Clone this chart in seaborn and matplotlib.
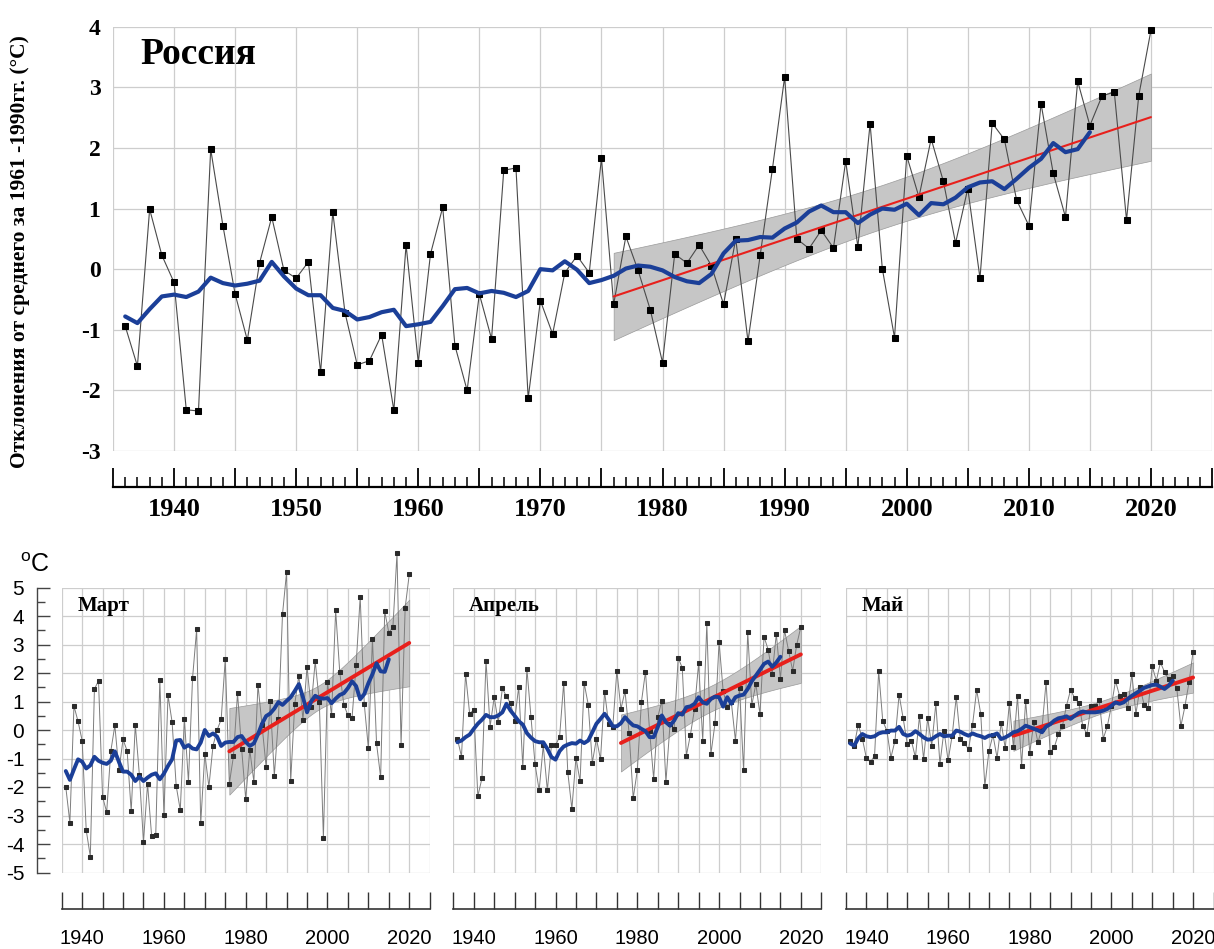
import numpy as np
import pandas as pd
import matplotlib
matplotlib.use('Agg')
import matplotlib.pyplot as plt
import seaborn as sns

years = np.arange(1936, 2021)
years_smooth = np.arange(1936, 2016)
trend_start = 1976

# Россия, годовые аномалии
rus = [-0.94, -1.60, 0.99, 0.23, -0.22, -2.32, -2.34, 1.98, 0.72, -0.41,
       -1.17, 0.10, 0.86, -0.02, -0.15, 0.12, -1.70, 0.94, -0.72, -1.58,
       -1.51, -1.08, -2.33, 0.40, -1.54, 0.25, 1.02, -1.26, -2.00, -0.41,
       -1.15, 1.63, 1.67, -2.13, -0.52, -1.07, -0.06, 0.22, -0.06, 1.83,
       -0.58, 0.54, -0.02, -0.67, -1.54, 0.25, 0.10, 0.40, 0.06, -0.58,
       0.50, -1.19, 0.23, 1.65, 3.17, 0.50, 0.34, 0.64, 0.35, 1.78,
       0.37, 2.40, 0.01, -1.13, 1.87, 1.19, 2.15, 1.45, 0.43, 1.33,
       -0.15, 2.41, 2.14, 1.14, 0.72, 2.73, 1.58, 0.86, 3.10, 2.37,
       2.86, 2.92, 0.81, 2.86, 3.94]
rus_smooth = [-0.78, -0.89, -0.66, -0.45, -0.42, -0.46, -0.37, -0.14, -0.23, -0.27,
              -0.24, -0.19, 0.12, -0.12, -0.32, -0.43, -0.43, -0.64, -0.69, -0.83,
              -0.79, -0.71, -0.67, -0.94, -0.91, -0.87, -0.61, -0.33, -0.31, -0.40,
              -0.36, -0.39, -0.46, -0.36, 0.00, -0.02, 0.13, -0.01, -0.23, -0.18,
              -0.11, 0.01, 0.06, 0.04, -0.02, -0.13, -0.20, -0.23, -0.08, 0.26,
              0.47, 0.48, 0.53, 0.52, 0.67, 0.77, 0.95, 1.05, 0.94, 0.94,
              0.76, 0.90, 1.00, 0.98, 1.08, 0.89, 1.09, 1.07, 1.18, 1.35,
              1.43, 1.45, 1.32, 1.49, 1.67, 1.82, 2.08, 1.93, 1.98, 2.26]

# Март
mar = [-2.00, -3.25, 0.84, 0.30, -0.37, -3.52, -4.44, 1.43, 1.73, -2.35,
       -2.88, -0.75, 0.16, -1.42, -0.33, -0.73, -2.85, 0.19, -1.58, -3.93,
       -1.89, -3.73, -3.68, 1.77, -2.98, 1.22, 0.28, -1.96, -2.81, 0.40,
       -1.82, 1.82, 3.53, -3.27, -0.83, -1.99, -0.56, 0.00, 0.37, 2.48,
       -1.88, -0.92, 1.29, -0.65, -2.42, -0.70, -1.82, 1.59, 0.16, -1.30,
       1.01, -1.60, 0.37, 4.06, 5.54, -1.80, 0.92, 1.91, 0.36, 2.21,
       0.80, 2.41, 1.00, -3.78, 1.68, 0.51, 4.20, 2.03, 0.89, 0.51,
       0.41, 2.27, 4.67, 0.91, -0.64, 3.20, -0.47, -1.66, 4.16, 3.42,
       3.60, 6.20, -0.51, 4.29, 5.46]
mar_smooth = [-1.44, -1.75, -1.38, -1.03, -1.11, -1.35, -1.24, -0.94, -1.08, -1.15,
              -1.19, -1.08, -0.75, -1.12, -1.46, -1.46, -1.57, -1.79, -1.64, -1.79,
              -1.67, -1.57, -1.52, -1.73, -1.53, -1.26, -1.03, -0.37, -0.35, -0.62,
              -0.53, -0.65, -0.68, -0.44, 0.00, -0.21, -0.12, -0.23, -0.56, -0.44,
              -0.42, -0.42, -0.25, -0.21, -0.42, -0.56, -0.47, -0.15, 0.22, 0.49,
              0.58, 0.75, 0.98, 0.88, 1.02, 1.15, 1.37, 1.61, 1.15, 0.62,
              1.00, 1.20, 1.12, 1.10, 1.12, 0.94, 1.10, 1.23, 1.29, 1.47,
              1.71, 1.54, 1.08, 1.26, 1.64, 1.96, 2.34, 2.06, 2.04, 2.48]

# Апрель
apr = [-0.31, -0.93, 1.97, 0.57, 0.71, -2.32, -1.70, 2.43, 0.12, 1.15,
       0.27, 1.46, 1.18, 0.94, 0.33, 1.52, -1.30, 2.15, 0.45, -1.21,
       -2.12, -0.54, -2.12, -0.54, -0.54, -0.23, 1.66, -1.48, -2.77, -0.97,
       -1.80, 1.65, 0.89, -1.15, -0.30, -1.03, 1.35, 0.20, 0.10, 2.08,
       0.74, 1.36, -0.11, -2.39, -1.42, 0.97, 2.05, -0.02, -1.71, 0.45,
       1.03, -1.83, 0.20, 0.03, 2.53, 2.18, -0.90, -0.16, 0.74, 2.35,
       -0.38, 3.74, -0.85, 0.23, 3.09, 1.36, 0.80, 0.97, -0.37, 1.48,
       -1.42, 3.45, 0.87, 1.62, 0.55, 3.27, 2.82, 1.97, 3.37, 1.79,
       3.51, 2.78, 2.08, 3.00, 3.62]
apr_smooth = [-0.43, -0.37, -0.25, -0.16, 0.04, 0.22, 0.36, 0.53, 0.45, 0.45,
              0.51, 0.62, 0.92, 0.68, 0.50, 0.31, 0.19, -0.11, -0.27, -0.39,
              -0.43, -0.43, -0.66, -0.95, -1.04, -0.74, -0.58, -0.51, -0.46, -0.48,
              -0.37, -0.46, -0.37, -0.08, 0.22, 0.39, 0.57, 0.37, 0.13, 0.13,
              0.24, 0.45, 0.29, 0.16, 0.13, 0.04, -0.04, -0.25, -0.25, 0.10,
              0.51, 0.27, 0.15, 0.33, 0.59, 0.54, 0.80, 0.83, 0.92, 1.15,
              0.97, 0.92, 1.09, 1.17, 1.15, 0.82, 1.15, 0.92, 1.15, 1.21,
              1.24, 1.44, 1.71, 1.91, 2.11, 2.32, 2.40, 2.22, 2.37, 2.57]

# Май
may = [-0.40, -0.55, 0.19, -0.30, -0.99, -1.13, -0.90, 2.07, 0.32, -0.02,
       -0.97, -0.37, 1.24, 0.41, -0.49, -0.37, -0.96, 0.49, -1.02, 0.41,
       -0.55, 0.93, -1.19, -0.02, -1.07, -0.20, 1.16, -0.32, -0.46, -0.68,
       0.19, 1.41, 0.56, -1.97, -0.74, -0.18, -0.98, 0.26, -0.64, 0.93,
       -0.61, 1.18, -1.25, 1.03, -0.79, 0.27, -0.43, 0.05, 1.69, -0.78,
       -0.61, -0.15, 0.14, 0.85, 1.41, 1.12, 0.95, 0.13, -0.14, 0.83,
       0.83, 1.06, -0.30, 0.13, 0.85, 1.72, 1.20, 1.25, 0.77, 1.96,
       0.56, 1.50, 0.89, 0.77, 2.23, 1.73, 2.37, 2.04, 1.78, 1.88,
       1.47, 0.13, 0.83, 1.67, 2.75]
may_smooth = [-0.47, -0.55, -0.29, -0.14, -0.22, -0.25, -0.22, -0.12, -0.08, -0.08,
              -0.02, -0.02, 0.11, -0.14, -0.20, -0.16, -0.04, -0.14, -0.26, -0.34,
              -0.32, -0.22, -0.14, -0.22, -0.20, -0.20, -0.02, -0.06, -0.14, -0.20,
              -0.12, -0.18, -0.22, -0.28, -0.20, -0.18, -0.12, -0.32, -0.26, -0.18,
              -0.08, -0.04, 0.04, 0.15, 0.10, 0.04, -0.01, -0.08, 0.12, 0.20,
              0.33, 0.41, 0.44, 0.48, 0.39, 0.50, 0.60, 0.65, 0.62, 0.62,
              0.62, 0.64, 0.68, 0.74, 0.85, 0.97, 0.92, 0.97, 1.09, 1.20,
              1.29, 1.38, 1.48, 1.53, 1.58, 1.59, 1.52, 1.44, 1.55, 1.73]

# полуширина доверительной полосы тренда: в середине и на краях
band_rus = (0.36, 0.72)
band_mar = (0.42, 1.52)
band_apr = (0.45, 1.00)
band_may = (0.22, 0.53)

BLUE = '#1b3f98'
RED = '#e8201c'

sns.set_theme(style='white')
plt.rcParams['font.family'] = ['Liberation Serif', 'DejaVu Serif']
plt.rcParams['text.color'] = 'black'
plt.rcParams['xtick.labelcolor'] = 'black'
plt.rcParams['ytick.labelcolor'] = 'black'
SANS = ['Liberation Sans', 'DejaVu Sans']

W, H = 1214, 949
fig = plt.figure(figsize=(W / 100, H / 100), dpi=100)


def axes_px(left, top, right, bottom):
    return fig.add_axes([left / W, 1 - bottom / H, (right - left) / W, (bottom - top) / H])


def draw(ax, vals, smooth, band, big):
    df = pd.DataFrame({'year': years, 'val': vals})
    tr = df[df['year'] >= trend_start]
    k, c = np.polyfit(tr['year'], tr['val'], 1)
    xb = tr['year'].values.astype(float)
    mid, end = band
    xm = (xb[0] + xb[-1]) / 2
    half = np.sqrt(mid ** 2 + (end ** 2 - mid ** 2) / (xb[-1] - xm) ** 2 * (xb - xm) ** 2)
    fit = k * xb + c
    ax.fill_between(xb, fit - half, fit + half, facecolor='#c6c6c6',
                    edgecolor='#9a9a9a', linewidth=0.5, zorder=2)
    if big:
        sns.lineplot(data=df, x='year', y='val', ax=ax, color='#4a4a4a', linewidth=0.8,
                     marker='s', markersize=4.6, markerfacecolor='black',
                     markeredgecolor='black', clip_on=False, zorder=3)
        sns.regplot(data=tr, x='year', y='val', ax=ax, scatter=False, ci=None, truncate=True,
                    line_kws=dict(color=RED, linewidth=1.5, zorder=4))
        sns.lineplot(x=years_smooth, y=smooth, ax=ax, color=BLUE, linewidth=3.0, zorder=5)
    else:
        sns.lineplot(data=df, x='year', y='val', ax=ax, color='#7d7d7d', linewidth=0.7,
                     marker='s', markersize=2.6, markerfacecolor='#2b2b2b',
                     markeredgecolor='#2b2b2b', clip_on=False, zorder=3)
        sns.regplot(data=tr, x='year', y='val', ax=ax, scatter=False, ci=None, truncate=True,
                    line_kws=dict(color=RED, linewidth=2.8, zorder=4))
        sns.lineplot(x=years_smooth, y=smooth, ax=ax, color=BLUE, linewidth=2.8, zorder=5)
    ax.set_xlabel('')
    ax.set_ylabel('')
    ax.set_xlim(1935, 2025)
    ax.set_axisbelow(True)
    ax.grid(True, which='major', color='#cdcdcd', linewidth=0.9)
    for s in ['top', 'right', 'left']:
        ax.spines[s].set_visible(False)
    ax.spines['bottom'].set_position(('outward', 26))


# верхний график
ax = axes_px(113, 26.7, 1212, 451)
draw(ax, rus, rus_smooth, band_rus, True)
ax.set_ylim(-3, 4)
ax.set_yticks(range(-3, 5))
ax.set_yticklabels([str(v) for v in range(-3, 5)], fontsize=17, fontweight='bold')
ax.set_xticks(np.arange(1935, 2026, 5))
ax.set_xticklabels([str(v) if v % 10 == 0 else '' for v in range(1935, 2026, 5)],
                   fontsize=19, fontweight='bold')
ax.set_xticks(np.arange(1935, 2026, 1), minor=True)
ax.tick_params(axis='y', left=False, length=0, pad=9)
ax.tick_params(axis='x', which='major', bottom=True, direction='in', length=13.5,
               width=1.3, color='black', pad=8)
ax.tick_params(axis='x', which='minor', bottom=True, direction='in', length=7,
               width=1.1, color='black')
ax.spines['bottom'].set_color('black')
ax.spines['bottom'].set_linewidth(1.6)
ax.text(0.025, 0.912, 'Россия', transform=ax.transAxes, fontsize=27,
        fontweight='bold', va='baseline')
fig.text(20 / W, 1 - 252 / H, 'Отклонения от среднего за 1961 -1990гг. (°C)',
         rotation=90, ha='center', va='center', fontsize=15.5, fontweight='bold')

# нижние графики
panels = [('Март', mar, mar_smooth, band_mar, 61.7),
          ('Апрель', apr, apr_smooth, band_apr, 453.3),
          ('Май', may, may_smooth, band_may, 846)]
for i, (name, vals, smooth, band, left) in enumerate(panels):
    ax = axes_px(left, 587.5, min(left + 368, 1213.5), 872.5)
    draw(ax, vals, smooth, band, False)
    ax.set_ylim(-5, 5)
    ax.set_yticks(range(-5, 6))
    ax.set_xticks(np.arange(1935, 2026, 5))
    ax.set_xticklabels([str(v) if v % 20 == 0 else '' for v in range(1935, 2026, 5)],
                       fontsize=14.5, family=SANS)
    ax.tick_params(axis='x', which='major', bottom=True, direction='in', length=12.5,
                   width=1.0, color='#333333', pad=15)
    ax.spines['bottom'].set_color('#333333')
    ax.spines['bottom'].set_linewidth(1.2)
    if i == 0:
        ax.spines['left'].set_visible(True)
        ax.spines['left'].set_position(('outward', 18))
        ax.spines['left'].set_color('#444444')
        ax.spines['left'].set_linewidth(1.0)
        ax.set_yticklabels([str(v) for v in range(-5, 6)], fontsize=15, family=SANS)
        ax.set_yticks(np.arange(-4.5, 5, 1), minor=True)
        ax.tick_params(axis='y', which='major', left=True, direction='in', length=9,
                       width=1.0, color='#444444', pad=9)
        ax.tick_params(axis='y', which='minor', left=True, direction='in', length=6,
                       width=1.0, color='#444444')
    else:
        ax.set_yticklabels([])
        ax.tick_params(axis='y', left=False, length=0)
    ax.text(0.042, 0.916, name, transform=ax.transAxes, fontsize=15,
            fontweight='bold', va='baseline')

fig.text(20 / W, 1 - 572 / H, r'$\mathregular{^{o}}$C', fontsize=18, family=SANS,
         va='baseline')

fig.savefig('out.png', dpi=100)
